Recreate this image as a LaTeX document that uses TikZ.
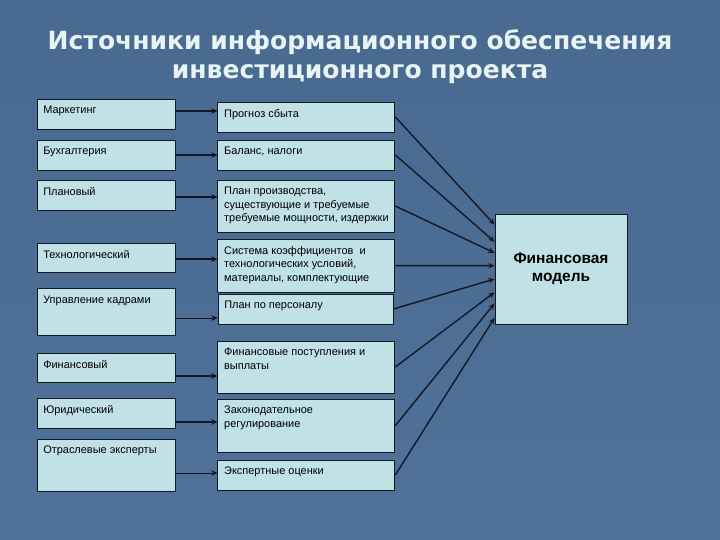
\documentclass[tikz,border=0pt]{standalone}
\usepackage{fontspec}
\setmainfont{Liberation Sans}
\newfontfamily\headfont{DejaVu Sans}
\usepackage{tikz}
\usetikzlibrary{arrows.meta, calc}
\definecolor{slideblue}{RGB}{72, 106, 145}
\definecolor{slidebluelow}{RGB}{80, 114, 152}
\definecolor{boxcyan}{RGB}{192, 225, 229}
\definecolor{titlewhite}{RGB}{230, 244, 244}
\definecolor{inkdark}{RGB}{20, 24, 36}

\begin{document}
\begin{tikzpicture}[>={Stealth[length=4.5pt, width=4pt]},
  src/.style={draw=inkdark, line width=0.6pt, fill=boxcyan, minimum width=3.45cm, inner sep=0pt},
  res/.style={src, minimum width=4.425cm},
  lbl/.style={anchor=north west, inner sep=0pt, align=left, xshift=0.16cm, yshift=-0.18cm,
              font=\fontsize{7.8}{9.6}\selectfont},
  link/.style={->, draw=inkdark, line width=#1},
  link/.default=0.7pt]
  \shade[top color=slideblue, bottom color=slidebluelow] (0,0) rectangle (18,13.5);

  \node[font=\headfont\bfseries\fontsize{17.8}{20.6}\selectfont, text=titlewhite, align=center]
    (title) at (9,12.08) {Источники информационного обеспечения\\инвестиционного проекта};

  \node[src, minimum height=0.75cm, label={[lbl]north west:{Маркетинг}}] (mark) at (2.65,10.65) {};
  \node[src, minimum height=0.75cm, label={[lbl]north west:{Бухгалтерия}}] (acct) at (2.65,9.625) {};
  \node[src, minimum height=0.75cm, label={[lbl]north west:{Плановый}}] (plan) at (2.65,8.625) {};
  \node[src, minimum height=0.73cm, label={[lbl]north west:{Технологический}}] (tech) at (2.65,7.06) {};
  \node[src, minimum height=1.175cm, label={[lbl]north west:{Управление кадрами}}] (staff) at (2.65,5.69) {};
  \node[src, minimum height=0.73cm, label={[lbl]north west:{Финансовый}}] (fin) at (2.65,4.31) {};
  \node[src, minimum height=0.75cm, label={[lbl]north west:{Юридический}}] (law) at (2.65,3.175) {};
  \node[src, minimum height=1.3cm, label={[lbl]north west:{Отраслевые эксперты}}] (expert) at (2.65,1.875) {};

  \node[res, minimum height=0.75cm, label={[lbl]north west:{Прогноз сбыта}}] (sales) at (7.66,10.575) {};
  \node[res, minimum height=0.75cm, label={[lbl]north west:{Баланс, налоги}}] (balance) at (7.66,9.625) {};
  \node[res, minimum height=1.3cm, label={[lbl]north west:{План производства,\\существующие и требуемые\\требуемые мощности, издержки}}] (prod) at (7.66,8.35) {};
  \node[res, minimum height=1.325cm, label={[lbl]north west:{Система коэффициентов\ \ и\\технологических условий,\\материалы, комплектующие}}] (coef) at (7.66,6.86) {};
  \node[res, minimum width=4.375cm, minimum height=0.75cm, label={[lbl]north west:{План по персоналу}}] (personnel) at (7.64,5.775) {};
  \node[res, minimum height=1.3cm, label={[lbl]north west:{Финансовые поступления и\\выплаты}}] (cash) at (7.66,4.325) {};
  \node[res, minimum height=1.325cm, label={[lbl]north west:{Законодательное\\регулирование}}] (legal) at (7.66,2.86) {};
  \node[res, minimum height=0.75cm, label={[lbl]north west:{Экспертные оценки}}] (rating) at (7.66,1.625) {};

  \node[draw=inkdark, line width=0.6pt, fill=boxcyan, minimum width=3.3cm, minimum height=2.75cm,
        align=center, font=\bfseries\fontsize{11}{12.9}\selectfont] (fmodel) at (14.025,6.775) {Финансовая\\модель};

  \foreach \a/\b/\dy/\w in {mark/sales/0.075/1.4pt, acct/balance/0/1.4pt, plan/prod/-0.05/1.4pt,
                            tech/coef/-0.04/1pt, staff/personnel/-0.14/0.7pt, fin/cash/-0.21/1.4pt,
                            law/legal/-0.225/1.4pt, expert/rating/-0.2/0.7pt}
  {
    \coordinate (s) at ([yshift=\dy cm]\a.east);
    \draw[link=\w] (s) -- (s -| \b.west);
  }

  \foreach \b/\t in {sales/0.1, balance/0.255, prod/0.355, coef/0.47, personnel/0.59,
                     cash/0.71, legal/0.81, rating/0.94}
    \draw[link=1pt] (\b.east) -- ($(fmodel.north west)!\t!(fmodel.south west)$);
\end{tikzpicture}
\end{document}
